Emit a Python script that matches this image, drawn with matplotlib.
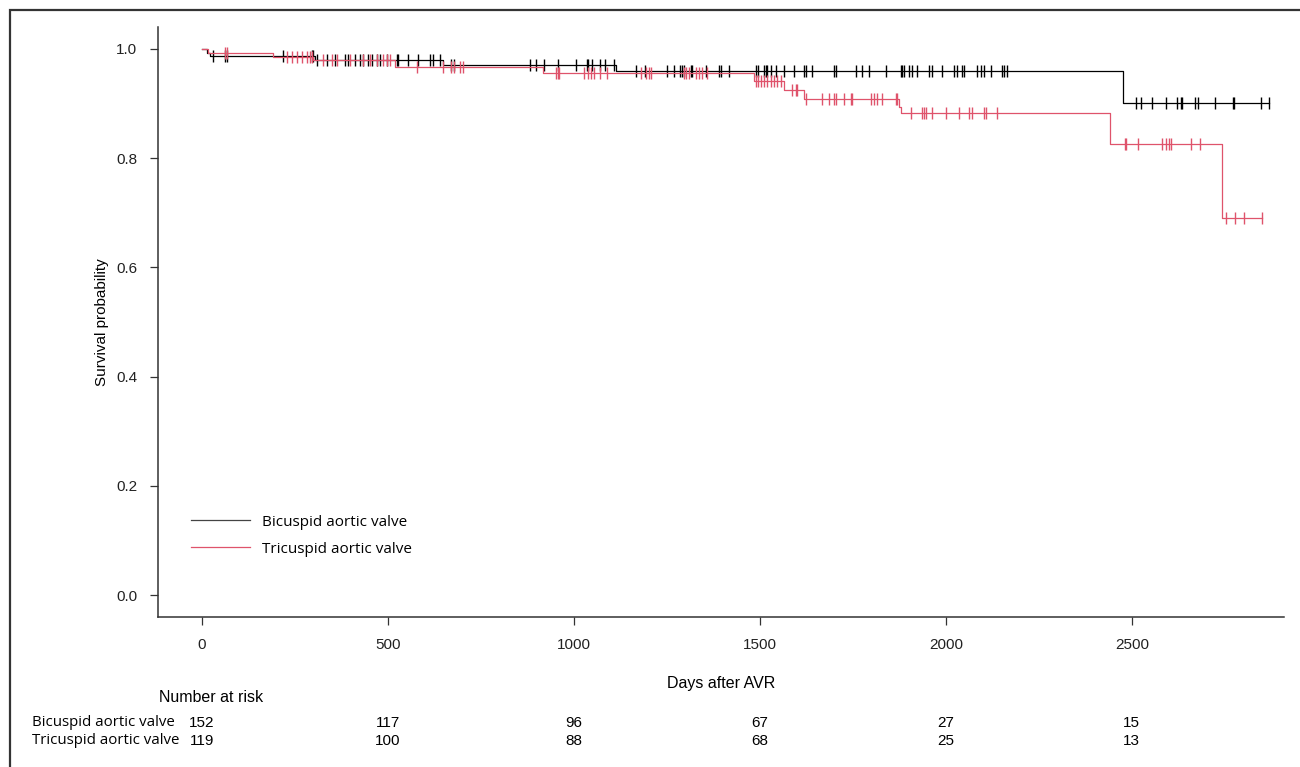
import numpy as np
import matplotlib
matplotlib.use('Agg')
import matplotlib.pyplot as plt
import matplotlib.transforms as mtransforms
from matplotlib.patches import Rectangle
from matplotlib.lines import Line2D

# Kaplan-Meier steps (days after AVR, survival after the drop)
bav_event_days = [14, 22, 303, 647, 1114, 2476]
bav_surv = [0.993, 0.987, 0.980, 0.971, 0.960, 0.900]
bav_censor_days = [30, 62, 67, 218, 296, 298, 309, 336, 357, 384, 392, 411, 424, 432,
                   446, 457, 470, 478, 497, 524, 526, 553, 580, 612, 620, 639, 671, 677,
                   881, 899, 921, 956, 1007, 1034, 1037, 1050, 1069, 1085, 1109,
                   1168, 1190, 1249, 1270, 1284, 1292, 1297, 1316, 1318, 1356, 1391,
                   1396, 1418, 1490, 1494, 1512, 1517, 1520, 1531, 1544, 1566, 1592,
                   1619, 1625, 1641, 1700, 1705, 1759, 1775, 1794, 1839, 1880, 1882,
                   1888, 1901, 1910, 1923, 1955, 1963, 1990, 2022, 2030, 2044, 2049,
                   2084, 2094, 2103, 2122, 2151, 2156, 2164,
                   2511, 2524, 2554, 2591, 2621, 2632, 2634, 2669, 2677, 2723, 2771,
                   2774, 2846, 2868]

tav_event_days = [16, 190, 298, 518, 916, 1485, 1566, 1619, 1874, 1880, 2440, 2742]
tav_surv = [0.992, 0.985, 0.979, 0.966, 0.955, 0.942, 0.924, 0.908, 0.893, 0.882,
            0.826, 0.690]
tav_censor_days = [62, 67, 228, 242, 255, 268, 282, 290, 295, 325, 349, 362, 397, 432,
                   451, 470, 486, 497, 505, 577, 647, 671, 679, 693, 701, 953, 956,
                   961, 1028, 1037, 1047, 1055, 1069, 1090, 1181, 1195, 1203, 1208,
                   1297, 1302, 1310, 1329, 1337, 1345, 1359, 1490, 1496, 1504, 1512,
                   1520, 1531, 1539, 1547, 1557, 1587, 1598, 1600, 1625, 1668, 1686,
                   1700, 1705, 1727, 1745, 1748, 1799, 1807, 1815, 1829, 1866, 1869,
                   1907, 1936, 1942, 1947, 1963, 2000, 2035, 2062, 2071, 2103, 2108,
                   2138, 2481, 2484, 2516, 2581, 2591, 2599, 2604, 2658, 2682, 2752,
                   2777, 2801, 2850]

groups = ['Bicuspid aortic valve', 'Tricuspid aortic valve']
risk_days = [0, 500, 1000, 1500, 2000, 2500]
bav_at_risk = [152, 117, 96, 67, 27, 15]
tav_at_risk = [119, 100, 88, 68, 25, 13]

colors = ['#000000', '#DF536B']

plt.rcParams['font.family'] = ['Liberation Sans', 'DejaVu Sans']


def km_step(event_days, surv, censor_days):
    t = np.concatenate([[0], event_days, [max(censor_days)]])
    s = np.concatenate([[1.0], surv, [surv[-1]]])
    return t, s


def surv_at(event_days, surv, days):
    idx = np.searchsorted(event_days, days, side='right')
    s = np.concatenate([[1.0], surv])
    return s[idx]


fig = plt.figure(figsize=(13, 7.67), dpi=100)
ax = fig.add_axes([158 / 1300, 1 - 617 / 767, (1284 - 158) / 1300, (617 - 27) / 767])

series = [(bav_event_days, bav_surv, bav_censor_days),
          (tav_event_days, tav_surv, tav_censor_days)]
for (ev, sv, cs), col in zip(series, colors):
    t, s = km_step(ev, sv, cs)
    ax.step(t, s, where='post', color=col, lw=0.9)
    ax.plot(cs, surv_at(ev, sv, cs), ls='none', marker='|', ms=8, mew=1.0, color=col)

ax.set_xlim(-118, 2909)
ax.set_ylim(-0.04, 1.04)
ax.set_xticks(risk_days)
ax.set_yticks([0, 0.2, 0.4, 0.6, 0.8, 1.0])
ax.set_yticklabels(['0.0', '0.2', '0.4', '0.6', '0.8', '1.0'])
for sp in ['top', 'right']:
    ax.spines[sp].set_visible(False)
for sp in ['left', 'bottom']:
    ax.spines[sp].set_color('#333333')
    ax.spines[sp].set_linewidth(1.1)
ax.tick_params(direction='out', length=6, width=0.9, color='#333333',
               labelsize=11, labelcolor='#222222', pad=9)
ax.set_ylabel('Survival probability', fontsize=11, labelpad=5)
ax.xaxis.set_label_coords(0.511, -0.1)
ax.set_xlabel('Days after AVR', fontsize=11.5)

handles = [Line2D([], [], color='#444444', lw=0.9), Line2D([], [], color=colors[1], lw=0.9)]
ax.legend(handles, groups, loc='upper left', bbox_to_anchor=(0.017, 0.197), frameon=False,
          handlelength=3.9, handletextpad=0.75, labelspacing=0.8,
          prop={'family': 'Open Sans', 'size': 11})

# number at risk table
trans = mtransforms.blended_transform_factory(ax.transData, fig.transFigure)
fig.text(159 / 1300, 1 - 698 / 767, 'Number at risk', fontsize=11.5, va='center')
for k, (name, counts) in enumerate(zip(groups, [bav_at_risk, tav_at_risk])):
    yy = 1 - (723 + 18 * k) / 767
    fig.text(32 / 1300, yy, name, fontsize=10.8, va='center', family='Open Sans')
    for d, n in zip(risk_days, counts):
        ax.text(d, yy, str(n), transform=trans, fontsize=11, va='center', ha='center')

# frame around the figure
fig.patches.append(Rectangle((10 / 1300, -0.05), 1.1, 1 - 10 / 767 + 0.05,
                             transform=fig.transFigure, fill=False,
                             edgecolor='#333333', lw=1.6))

fig.savefig('out.png', dpi=100)
